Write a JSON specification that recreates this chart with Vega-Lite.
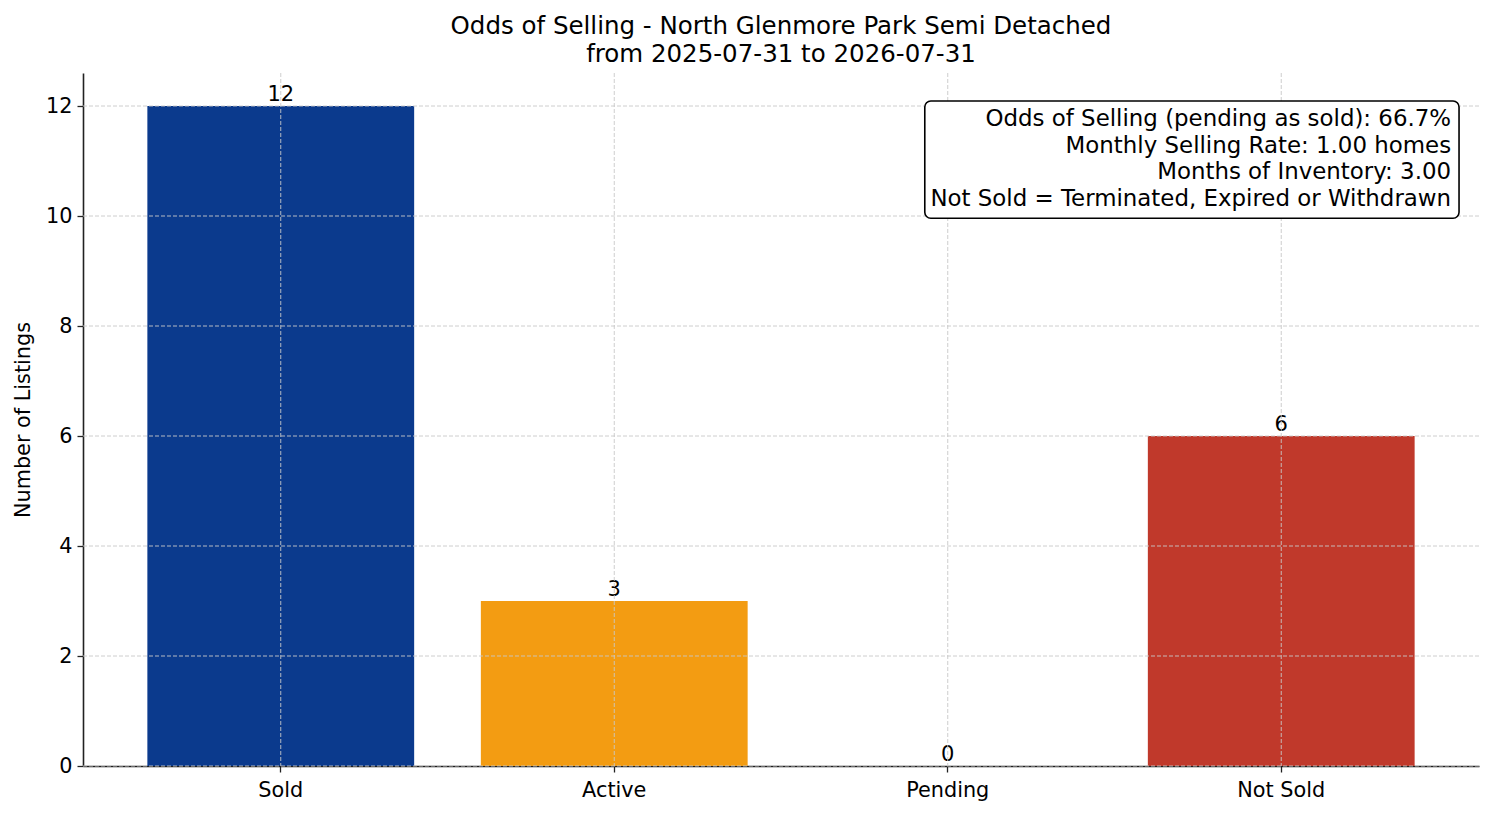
{
  "$schema": "https://vega.github.io/schema/vega-lite/v6.json",
  "width": 1396,
  "height": 693,
  "autosize": {"type": "none"},
  "padding": {"left": 83, "top": 73, "right": 15, "bottom": 50},
  "background": "white",
  "config": {
    "font": "DejaVu Sans",
    "view": {"stroke": null},
    "axis": {"labelFont": "DejaVu Sans", "titleFont": "DejaVu Sans", "labelColor": "black", "titleColor": "black"}
  },
  "title": {
    "text": ["Odds of Selling - North Glenmore Park Semi Detached", "from 2025-07-31 to 2026-07-31"],
    "fontSize": 24.5,
    "fontWeight": "normal",
    "color": "black",
    "lineHeight": 28,
    "anchor": "middle",
    "frame": "group",
    "offset": 5
  },
  "datasets": {
    "bars": [
      {"status": "Sold", "count": 12},
      {"status": "Active", "count": 3},
      {"status": "Pending", "count": 0},
      {"status": "Not Sold", "count": 6}
    ],
    "yticks": [{"v": 0}, {"v": 2}, {"v": 4}, {"v": 6}, {"v": 8}, {"v": 10}, {"v": 12}],
    "note": [
      {"left": 0.603, "right": 0.9857, "top": 12.09, "bottom": 9.96, "tx": 0.98, "ty": 11.76,
       "lines": ["Odds of Selling (pending as sold): 66.7%", "Monthly Selling Rate: 1.00 homes", "Months of Inventory: 3.00", "Not Sold = Terminated, Expired or Withdrawn"]}
    ]
  },
  "layer": [
    {
      "layer": [
        {
          "data": {"name": "bars"},
          "mark": {"type": "bar"},
          "encoding": {
            "x": {
              "field": "status", "type": "nominal", "sort": null,
              "scale": {"type": "band", "paddingInner": 0.2, "paddingOuter": 0.193},
              "axis": {"title": null, "labelAngle": 0, "labelFontSize": 20.8, "labelPadding": 8, "tickSize": 6, "tickWidth": 1.3, "tickColor": "#222", "domainColor": "#222", "domainWidth": 1.6, "grid": false, "bandPosition": 0.5}
            },
            "y": {
              "field": "count", "type": "quantitative",
              "scale": {"domain": [0, 12.6], "nice": false, "zero": true},
              "axis": {"title": "Number of Listings", "titleFontSize": 20.8, "titleFontWeight": "normal", "titlePadding": 12, "values": [0, 2, 4, 6, 8, 10, 12], "format": "d", "labelFontSize": 20.8, "labelPadding": 5, "tickSize": 6, "tickWidth": 1.3, "tickColor": "#222", "domainColor": "#222", "domainWidth": 1.6, "grid": false}
            },
            "color": {
              "field": "status", "type": "nominal", "legend": null,
              "scale": {"domain": ["Sold", "Active", "Pending", "Not Sold"], "range": ["#0b3a8d", "#f39c12", "#8e44ad", "#c0392b"]}
            }
          }
        },
        {
          "data": {"name": "bars"},
          "mark": {"type": "text", "baseline": "bottom", "dy": -1, "fontSize": 21, "color": "black", "font": "DejaVu Sans"},
          "encoding": {
            "x": {"field": "status", "type": "nominal", "sort": null},
            "y": {"field": "count", "type": "quantitative"},
            "text": {"field": "count", "type": "quantitative"}
          }
        },
        {
          "data": {"name": "bars"},
          "mark": {"type": "rule", "color": "#c8c8c8", "strokeWidth": 0.9, "strokeDash": [4, 2]},
          "encoding": {
            "x": {"field": "status", "type": "nominal", "sort": null}
          }
        },
        {
          "data": {"name": "yticks"},
          "mark": {"type": "rule", "color": "#c8c8c8", "strokeWidth": 0.9, "strokeDash": [4, 2]},
          "encoding": {
            "y": {"field": "v", "type": "quantitative"}
          }
        }
      ]
    },
    {
      "layer": [
        {
          "data": {"name": "note"},
          "mark": {"type": "rect", "fill": "white", "stroke": "black", "strokeWidth": 1.6, "cornerRadius": 6},
          "encoding": {
            "x": {"field": "left", "type": "quantitative", "scale": {"domain": [0, 1], "nice": false, "zero": false}, "axis": null},
            "x2": {"field": "right"},
            "y": {"field": "top", "type": "quantitative"},
            "y2": {"field": "bottom"}
          }
        },
        {
          "data": {"name": "note"},
          "mark": {"type": "text", "align": "right", "baseline": "middle", "fontSize": 22.9, "lineHeight": 26.5, "color": "black", "font": "DejaVu Sans"},
          "encoding": {
            "x": {"field": "tx", "type": "quantitative", "scale": {"domain": [0, 1], "nice": false, "zero": false}, "axis": null},
            "y": {"field": "ty", "type": "quantitative"},
            "text": {"field": "lines"}
          }
        }
      ]
    }
  ],
  "resolve": {"scale": {"x": "independent"}}
}
